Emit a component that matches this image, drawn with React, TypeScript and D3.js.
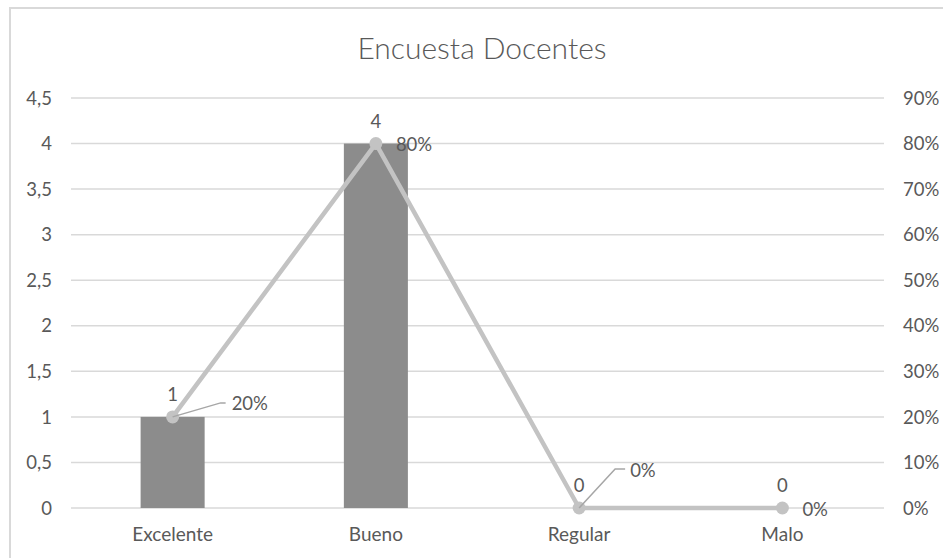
import React from "react";
import * as d3 from "d3";

const categories = ["Excelente", "Bueno", "Regular", "Malo"];
const counts = [1, 4, 0, 0];
const percents = [0.2, 0.8, 0, 0];
const leftTicks = [0, 0.5, 1, 1.5, 2, 2.5, 3, 3.5, 4, 4.5];
const rightTicks = [0, 0.1, 0.2, 0.3, 0.4, 0.5, 0.6, 0.7, 0.8, 0.9];
const title = "Encuesta Docentes";

const W = 943;
const H = 558;
const plot = { left: 71, right: 884, top: 98, bottom: 508 };
const FONT = "Lato, 'Open Sans', 'DejaVu Sans', sans-serif";
const TEXT = "#595959";
const FS = 18.5;

const fmtLeft = (v: number) => String(v).replace(".", ",");
const fmtPct = (v: number) => `${Math.round(v * 100)}%`;

export default function App() {
  const x = d3.scaleBand<string>().domain(categories).range([plot.left, plot.right]).paddingInner(0).paddingOuter(0);
  const yL = d3.scaleLinear().domain([0, 4.5]).range([plot.bottom, plot.top]);
  const yR = d3.scaleLinear().domain([0, 0.9]).range([plot.bottom, plot.top]);
  const barW = x.bandwidth() * 0.315;
  const cx = (c: string) => (x(c) as number) + x.bandwidth() / 2;

  const line = d3
    .line<number>()
    .x((_, i) => cx(categories[i]))
    .y((d) => yR(d));

  const pctLabel = (i: number) => {
    const px = cx(categories[i]);
    const py = yR(percents[i]);
    if (i === 0) {
      return {
        leader: `M${px},${py} L${px + 48},${py - 14} L${px + 53},${py - 14}`,
        tx: px + 59,
        ty: py - 14,
      };
    }
    if (i === 2) {
      return {
        leader: `M${px},${py} L${px + 36},${py - 39} L${px + 46},${py - 39}`,
        tx: px + 51,
        ty: py - 38,
      };
    }
    return { leader: null, tx: px + 20, ty: py + 1 };
  };

  return (
    <svg
      width={W}
      height={H}
      style={{ position: "absolute", left: 0, top: 0, background: "#fff" }}
      fontFamily={FONT}
    >
      <rect x={0} y={0} width={W} height={H} fill="#fff" />
      <rect x={10} y={8} width={W + 20} height={H + 20} fill="none" stroke="#d9d9d9" strokeWidth={2} />

      <text x={482} y={59} textAnchor="middle" fontSize={30} fontWeight={300} fill={TEXT}>
        {title}
      </text>

      {leftTicks.map((t) => (
        <line key={t} x1={plot.left} x2={plot.right} y1={yL(t)} y2={yL(t)} stroke="#d9d9d9" strokeWidth={1.5} />
      ))}

      {leftTicks.map((t) => (
        <text key={t} x={52} y={yL(t)} dy="0.36em" textAnchor="end" fontSize={FS} fill={TEXT}>
          {fmtLeft(t)}
        </text>
      ))}

      {rightTicks.map((t) => (
        <text key={t} x={903} y={yR(t)} dy="0.36em" textAnchor="start" fontSize={FS} fill={TEXT}>
          {fmtPct(t)}
        </text>
      ))}

      {categories.map((c, i) => (
        <rect
          key={c}
          x={cx(c) - barW / 2}
          y={yL(counts[i])}
          width={barW}
          height={yL(0) - yL(counts[i])}
          fill="#8c8c8c"
        />
      ))}

      <path d={line(percents) as string} fill="none" stroke="#c3c3c3" strokeWidth={4.5} strokeLinejoin="round" />
      {percents.map((p, i) => (
        <circle key={i} cx={cx(categories[i])} cy={yR(p)} r={6.5} fill="#c3c3c3" />
      ))}

      {categories.map((c, i) => (
        <text key={c} x={cx(c)} y={yL(counts[i]) - 16} textAnchor="middle" fontSize={FS} fill={TEXT}>
          {counts[i]}
        </text>
      ))}

      {percents.map((p, i) => {
        const l = pctLabel(i);
        return (
          <g key={i}>
            {l.leader && <path d={l.leader} fill="none" stroke="#a6a6a6" strokeWidth={1.5} />}
            <text x={l.tx} y={l.ty} dy="0.36em" fontSize={FS} fill={TEXT}>
              {fmtPct(p)}
            </text>
          </g>
        );
      })}

      {categories.map((c) => (
        <text key={c} x={cx(c)} y={541} textAnchor="middle" fontSize={19} fill={TEXT}>
          {c}
        </text>
      ))}
    </svg>
  );
}
